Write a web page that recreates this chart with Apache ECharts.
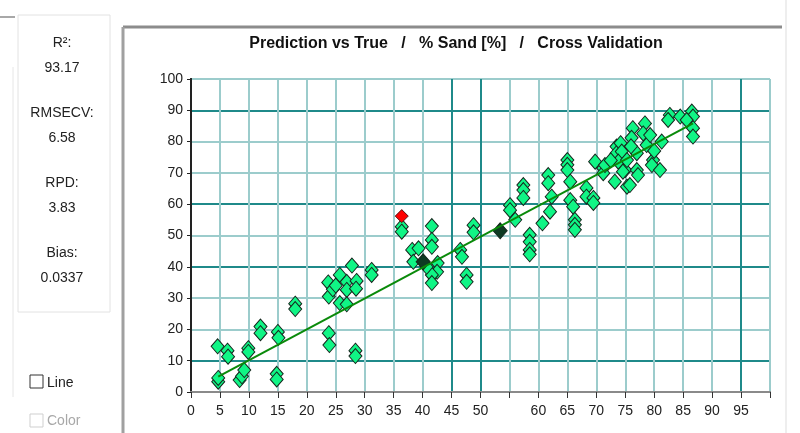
<!DOCTYPE html>
<html>
<head>
<meta charset="utf-8">
<script src="https://cdn.jsdelivr.net/npm/echarts@6/dist/echarts.min.js"></script>
<style>
html, body { margin: 0; padding: 0; background: #fff; }
#chart { width: 800px; height: 433px; }
</style>
</head>
<body>
<div id="chart"></div>
<script>
// 统计值
const statLabels = ['R²:', 'RMSECV:', 'RPD:', 'Bias:'];
const statValues = ['93.17', '6.58', '3.83', '0.0337'];
const chartTitle = 'Prediction vs True   /   % Sand [%]   /   Cross Validation';

// x轴不显示的标签
const xHiddenLabels = [55, 100];

// 普通点 (真值, 预测值)
const trueVals = [4.7, 4.7, 4.6, 6.3, 6.4, 8.4, 8.8, 9.2, 9.9, 9.9, 12.0, 12.0, 15.0, 15.1, 14.8, 14.8, 18.0, 18.0,
    23.8, 23.9, 23.7, 23.8, 25.7, 24.5, 26.9, 26.9, 28.6, 28.5, 27.8, 25.7, 26.9, 28.4, 28.4, 31.2, 31.2, 25.0,
    36.4, 36.4, 41.6, 41.6, 41.6, 38.2, 38.4, 39.3, 42.6, 42.5, 41.6, 41.6, 40.7, 46.5, 46.8, 47.6, 47.6, 48.8, 48.8,
    55.1, 55.1, 56.0, 57.4, 57.4, 57.4, 58.5, 58.5, 58.5, 58.5, 60.7, 61.7, 61.7, 62.3, 62.0,
    65.0, 65.0, 65.0, 65.5, 65.5, 66.0, 66.3, 66.3, 66.3, 68.3, 68.3, 69.5, 69.5, 69.8, 71.2, 71.2, 73.2, 73.5, 73.5,
    75.0, 75.3, 74.2, 74.4, 73.8, 74.6, 76.3, 76.1, 77.0, 75.3, 78.4, 78.1, 78.7, 77.0, 77.2, 75.8, 79.8, 79.6,
    81.0, 81.3, 82.7, 82.4, 84.5, 86.5, 86.7, 86.7, 86.7, 85.6, 79.3, 71.5, 76.0, 80.0, 72.5];
const predVals = [3.3, 4.5, 14.6, 13.2, 11.3, 3.8, 5.0, 7.0, 14.0, 12.8, 20.9, 18.8, 19.2, 17.3, 5.8, 4.0, 28.2, 26.5,
    18.8, 15.0, 35.0, 30.5, 37.4, 32.8, 35.2, 32.6, 35.5, 33.0, 40.4, 28.4, 28.0, 13.2, 11.5, 39.0, 37.4, 34.0,
    52.8, 51.2, 53.0, 48.6, 46.4, 45.4, 41.6, 45.9, 41.2, 38.4, 37.4, 34.8, 40.0, 45.4, 43.2, 37.4, 35.2, 53.3, 51.0,
    59.7, 58.1, 55.0, 66.1, 64.5, 62.0, 50.2, 48.0, 45.4, 44.0, 53.9, 69.3, 66.7, 62.4, 57.6,
    74.1, 72.6, 70.9, 67.2, 61.3, 59.2, 55.0, 53.4, 51.8, 65.2, 62.4, 62.0, 60.4, 73.6, 71.5, 69.9, 67.2, 78.4, 76.3,
    70.9, 65.6, 79.5, 76.8, 73.6, 70.4, 84.3, 81.2, 76.3, 74.1, 85.8, 82.6, 78.9, 70.9, 69.3, 66.1, 74.1, 72.5,
    70.9, 80.0, 88.5, 86.9, 88.0, 89.6, 88.0, 84.3, 81.6, 86.9, 82.1, 72.5, 78.5, 77.0, 74.0];

// 深色点
const darkTrue = [40.1, 53.4];
const darkPred = [41.6, 51.5];

// 异常点(红色)
const outlierTrue = [36.4];
const outlierPred = [56.2];

// 回归线端点
const fitX = [4.7, 86.7];
const fitY = [4.9, 85.8];

const dom = document.getElementById('chart');
const myChart = echarts.init(dom);

function pairs(xs, ys) {
    return xs.map((x, i) => [x, ys[i]]);
}

// 网格线颜色 (部分线更深)
const light = '#9ccccc';
const dark = '#1f8a8a';
const xLineColors = [];
for (let v = 0; v <= 100; v += 5) {
    xLineColors.push(v === 45 || v === 50 || v === 95 ? dark : light);
}
const yLineColors = [];
for (let v = 0; v <= 100; v += 10) {
    yLineColors.push(v === 10 || v === 40 || v === 60 || v === 90 ? dark : light);
}

const labelFont = { fontFamily: 'Liberation Sans', fontSize: 14, color: '#222' };
const panelFont = '14px "Liberation Sans"';

// 左侧面板和外框
const graphics = [
    { type: 'rect', shape: { x: 18, y: 15, width: 92, height: 297 }, style: { fill: '#fff', stroke: '#e2e2e2', lineWidth: 1 } },
    { type: 'line', shape: { x1: 0, y1: 17, x2: 15, y2: 17 }, style: { stroke: '#a8a8a8', lineWidth: 2 } },
    { type: 'line', shape: { x1: 13, y1: 67, x2: 13, y2: 397 }, style: { stroke: '#e6e6e6', lineWidth: 1 } },
    { type: 'line', shape: { x1: 123, y1: 27, x2: 782, y2: 27 }, style: { stroke: '#8c8c8c', lineWidth: 3 } },
    { type: 'line', shape: { x1: 123, y1: 27, x2: 123, y2: 433 }, style: { stroke: '#a0a0a0', lineWidth: 3 } },
    { type: 'line', shape: { x1: 786, y1: 0, x2: 786, y2: 433 }, style: { stroke: '#eeeeee', lineWidth: 2 } },
    { type: 'text', x: 456, y: 44, style: { text: chartTitle, font: 'bold 16px "Liberation Sans"', fill: '#111', textAlign: 'center', textVerticalAlign: 'middle', align: 'center', verticalAlign: 'middle' } },
    { type: 'rect', shape: { x: 30, y: 375, width: 13, height: 13 }, style: { fill: '#fff', stroke: '#333', lineWidth: 1 } },
    { type: 'text', x: 47, y: 383, style: { text: 'Line', font: panelFont, fill: '#222', textVerticalAlign: 'middle', verticalAlign: 'middle' } },
    { type: 'rect', shape: { x: 30, y: 414, width: 13, height: 13 }, style: { fill: '#fff', stroke: '#cfcfcf', lineWidth: 1 } },
    { type: 'text', x: 47, y: 421, style: { text: 'Color', font: panelFont, fill: '#a8a8a8', textVerticalAlign: 'middle', verticalAlign: 'middle' } }
];
statLabels.forEach((lab, i) => {
    graphics.push({ type: 'text', x: 62, y: 43 + i * 70, style: { text: lab, font: panelFont, fill: '#222', textAlign: 'center', textVerticalAlign: 'middle', align: 'center', verticalAlign: 'middle' } });
    graphics.push({ type: 'text', x: 62, y: 68 + i * 70, style: { text: statValues[i], font: panelFont, fill: '#222', textAlign: 'center', textVerticalAlign: 'middle', align: 'center', verticalAlign: 'middle' } });
});

const pointStyle = { borderColor: '#16261d', borderWidth: 1, opacity: 1 };

const option = {
    backgroundColor: '#fff',
    animation: false,
    graphic: graphics,
    grid: { left: 191, right: 30, top: 79, bottom: 41, containLabel: false },
    xAxis: [{
        type: 'value', min: 0, max: 100, interval: 5,
        axisLine: { onZero: false, lineStyle: { color: '#8a8a8a', width: 2 } },
        axisTick: { length: 6, lineStyle: { color: '#333' } },
        axisLabel: Object.assign({ margin: 12, formatter: v => xHiddenLabels.includes(v) ? '' : v }, labelFont),
        splitLine: { show: true, lineStyle: { color: xLineColors, width: 2 } }
    }, {
        type: 'value', min: 0, max: 100, position: 'top',
        axisLine: { show: true, lineStyle: { color: '#8a8a8a', width: 2 } },
        axisTick: { show: false }, axisLabel: { show: false }, splitLine: { show: false }
    }],
    yAxis: [{
        type: 'value', min: 0, max: 100, interval: 10,
        axisLine: { show: true, onZero: false, lineStyle: { color: '#222', width: 2 } },
        axisTick: { show: true, length: 4, lineStyle: { color: '#222' } },
        axisLabel: Object.assign({ margin: 8 }, labelFont),
        splitLine: { show: true, lineStyle: { color: yLineColors, width: 2 } }
    }, {
        type: 'value', min: 0, max: 100, position: 'right',
        axisLine: { show: true, lineStyle: { color: '#222', width: 2 } },
        axisTick: { show: false }, axisLabel: { show: false }, splitLine: { show: false }
    }],
    series: [{
        type: 'scatter',
        data: pairs(trueVals, predVals),
        symbol: 'diamond', symbolSize: [13, 15],
        itemStyle: Object.assign({ color: '#10f585' }, pointStyle)
    }, {
        type: 'scatter',
        data: pairs(darkTrue, darkPred),
        symbol: 'diamond', symbolSize: [14, 16],
        itemStyle: Object.assign({ color: '#0d3a22' }, pointStyle)
    }, {
        type: 'line',
        data: pairs(fitX, fitY),
        showSymbol: false, symbol: 'none',
        lineStyle: { color: '#0a8a0a', width: 2 },
        z: 3
    }, {
        type: 'scatter',
        data: pairs(outlierTrue, outlierPred),
        symbol: 'diamond', symbolSize: [13, 13],
        itemStyle: { color: '#ff0000', borderColor: '#5a1010', borderWidth: 1, opacity: 1 },
        z: 4
    }]
};

myChart.setOption(option);

window.addEventListener('resize', function () {
    myChart.resize();
});
</script>
</body>
</html>
